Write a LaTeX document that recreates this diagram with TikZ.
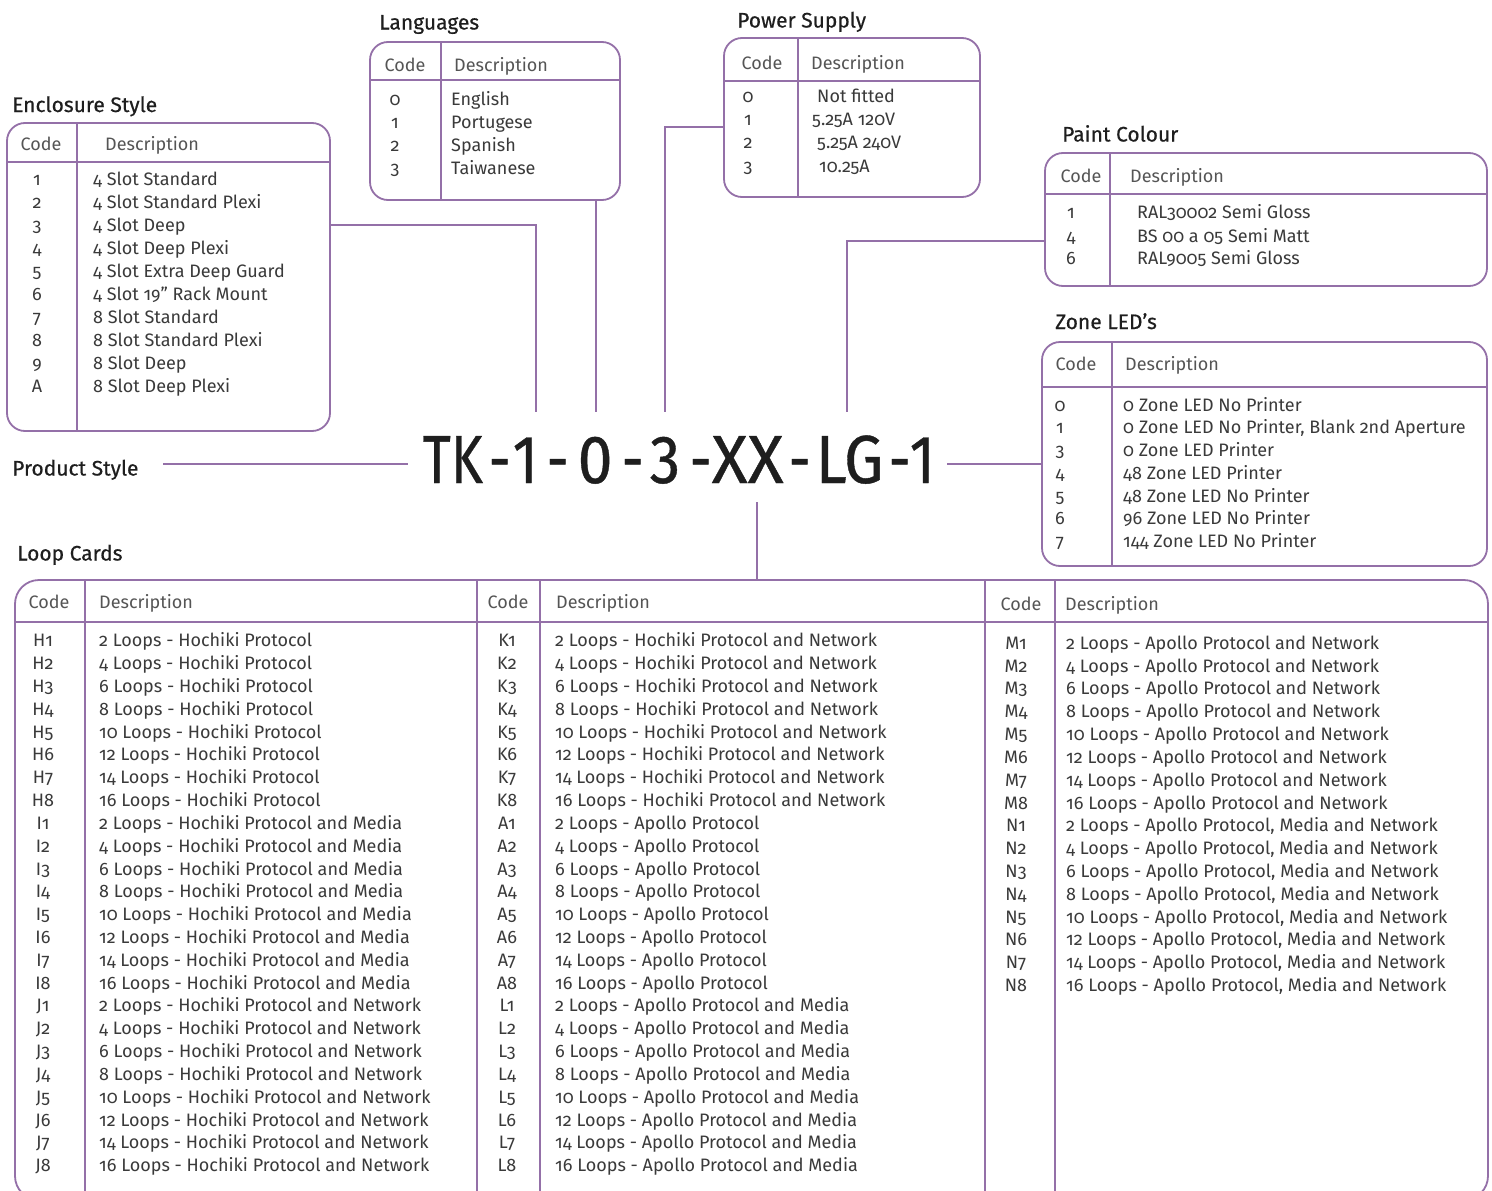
\documentclass[tikz,border=0pt]{standalone}
\usepackage{fontspec}
\setmainfont{Fira Sans}[Numbers=OldStyle]
\newfontfamily\medfont{Fira Sans}[FakeBold=0.5]
\newfontfamily\bigfont{Fira Sans}[Numbers=Lining, FakeBold=0.6]
\definecolor{lc}{RGB}{148,112,168}
\definecolor{tc}{RGB}{58,58,58}
\definecolor{hc}{RGB}{85,85,85}
\definecolor{ttc}{RGB}{30,30,30}
\newcommand\chunkat[3][0.8]{\rlap{\hspace{#2pt}\scalebox{#1}[1]{#3}}}
\begin{document}
\begin{tikzpicture}[x=1pt,y=-1pt,
  pl/.style={draw=lc, line width=1.8pt},
  tbox/.style={pl, rounded corners=18pt, anchor=north west, inner sep=0pt, outer sep=0pt},
  txt/.style={inner sep=0pt, text height=12.4pt, text depth=0pt, font=\fontsize{18pt}{22pt}\selectfont, text=tc},
  dsc/.style={txt, anchor=west},
  cod/.style={txt, anchor=center},
  hd/.style={txt, text=hc},
  hdc/.style={hd, anchor=center},
  hdd/.style={hd, anchor=west},
  ttl/.style={inner sep=0pt, anchor=west, font=\medfont\fontsize{21pt}{25pt}\selectfont, text=ttc, text height=15pt, text depth=0pt},
]
\clip (0,0) rectangle (1492,1191);
\fill[white] (0,0) rectangle (1492,1191);

% ---------- Enclosure Style ----------
\node[ttl] (encT) at (12,104.5) {Enclosure Style};
\node[tbox, minimum width=323pt, minimum height=308pt] (encl) at (7,123) {};
\draw[pl] (7,162) -- (330,162);
\draw[pl] (77,123) -- (77,431);
\node[hdc] (encHc) at (41,144) {Code};
\node[hdd] (encHd) at (105,144) {Description};
\foreach \c/\d [count=\i from 0] in {1/4 Slot Standard, 2/4 Slot Standard Plexi, 3/4 Slot Deep, 4/4 Slot Deep Plexi, 5/4 Slot Extra Deep Guard, 6/4 Slot 19" Rack Mount, 7/8 Slot Standard, 8/8 Slot Standard Plexi, 9/8 Slot Deep, A/8 Slot Deep Plexi}
{
  \node[cod] (encC\i) at (37,{179+23*\i}) {\c};
  \node[dsc] (encD\i) at (93,{179+23*\i}) {\d};
}

% ---------- Languages ----------
\node[ttl] (langT) at (379,22) {Languages};
\node[tbox, minimum width=250pt, minimum height=158pt] (lang) at (370,42) {};
\draw[pl] (370,80) -- (620,80);
\draw[pl] (441,42) -- (441,200);
\node[hdc] (langHc) at (405,65) {Code};
\node[hdd] (langHd) at (454,65) {Description};
\foreach \c/\d [count=\i from 0] in {0/English, 1/Portugese, 2/Spanish, 3/Taiwanese}
{
  \node[cod] (langC\i) at (395,{99+23*\i}) {\c};
  \node[dsc] (langD\i) at (451,{99+23*\i}) {\d};
}

% ---------- Power Supply ----------
\node[ttl] (powT) at (737,20) {Power Supply};
\node[tbox, minimum width=256pt, minimum height=159pt] (pow) at (724,38) {};
\draw[pl] (724,81) -- (980,81);
\draw[pl] (798,38) -- (798,197);
\node[hdc] (powHc) at (762,63) {Code};
\node[hdd] (powHd) at (811,63) {Description};
\foreach \c/\x/\d [count=\i from 0] in {0/817/Not fitted, 1/812/5.25A 120V, 2/817/5.25A 240V, 3/819/10.25A}
{
  \node[cod] (powC\i) at (748,{96+23.3*\i}) {\c};
  \node[dsc] (powD\i) at (\x,{96+23.3*\i}) {\d};
}

% ---------- Paint Colour ----------
\node[ttl] (paintT) at (1062,134) {Paint Colour};
\node[tbox, minimum width=442pt, minimum height=133pt] (paint) at (1045,153) {};
\draw[pl] (1045,194) -- (1487,194);
\draw[pl] (1110,153) -- (1110,286);
\node[hdc] (paintHc) at (1081,176.5) {Code};
\node[hdd] (paintHd) at (1130,176.5) {Description};
\foreach \c/\y/\d [count=\i from 0] in {1/212.5/RAL30002 Semi Gloss, 4/236/BS 00 a 05 Semi Matt, 6/258/RAL9005 Semi Gloss}
{
  \node[cod] (paintC\i) at (1071,\y) {\c};
  \node[dsc] (paintD\i) at (1137,\y) {\d};
}

% ---------- Zone LED's ----------
\node[ttl] (zoneT) at (1055,321.5) {Zone LED’s};
\node[tbox, minimum width=445pt, minimum height=224pt] (zone) at (1042,342) {};
\draw[pl] (1042,387) -- (1487,387);
\draw[pl] (1112,342) -- (1112,566);
\node[hdc] (zoneHc) at (1076,364) {Code};
\node[hdd] (zoneHd) at (1125,364) {Description};
\foreach \c/\d [count=\i from 0] in {0/0 Zone LED No Printer, 1/{0 Zone LED No Printer, Blank 2nd Aperture}, 3/0 Zone LED Printer, 4/48 Zone LED Printer, 5/48 Zone LED No Printer, 6/96 Zone LED No Printer, 7/144 Zone LED No Printer}
{
  \node[cod] (zoneC\i) at (1060,{405+22.7*\i}) {\c};
  \node[dsc] (zoneD\i) at (1123,{405+22.7*\i}) {\d};
}

% ---------- Product code ----------
\node[ttl] (psT) at (12,468) {Product Style};
\node[inner sep=0pt, anchor=base west, text=ttc, font=\bigfont\fontsize{68pt}{68pt}\selectfont] (code) at (422,483)
  {\chunkat{0}{TK}\chunkat{66}{-}\chunkat[0.85]{90}{1}\chunkat{124}{-}\chunkat[0.92]{155}{0}\chunkat{199}{-}\chunkat[0.9]{227}{3}\chunkat{267}{-}\chunkat[0.98]{289}{XX}\chunkat{366}{-}\chunkat[0.92]{393}{LG}\chunkat{466}{-}\chunkat[0.85]{487}{1}\hspace{520pt}};

\coordinate (kps) at (163,464);
\coordinate (kl) at (408,464);
\coordinate (k1) at (536,412);
\coordinate (k0) at (596,412);
\coordinate (k3) at (665,412);
\coordinate (k4) at (847,412);
\coordinate (kb) at (757,502);
\coordinate (kr) at (947,464);

\draw[pl] (kps) -- (kl);
\draw[pl] (encl.east |- 0,225) -| (k1);
\draw[pl] (lang.south -| k0) -- (k0);
\draw[pl] (pow.west |- 0,127) -| (k3);
\draw[pl] (paint.west |- 0,241) -| (k4);
\draw[pl] (kr) -- (zone.west |- kr);

% ---------- Loop Cards ----------
\node[ttl] (loopT) at (17,553) {Loop Cards};
\node[tbox, rounded corners=24pt, minimum width=1473pt, minimum height=620pt] (loop) at (15,580) {};
\draw[pl] (kb) -- (loop.north -| kb);
\draw[pl] (15,622) -- (1488,622);
\foreach \xx in {85,477,540,985,1055} { \draw[pl] (\xx,580) -- (\xx,1200); }
\node[hdc] (l1Hc) at (49,602.5) {Code};
\node[hdd] (l1Hd) at (99,602.5) {Description};
\node[hdc] (l2Hc) at (508,602) {Code};
\node[hdd] (l2Hd) at (556,602) {Description};
\node[hdc] (l3Hc) at (1021,604) {Code};
\node[hdd] (l3Hd) at (1065,604) {Description};

\foreach \c/\d [count=\i from 0] in {
 H1/2 Loops - Hochiki Protocol, H2/4 Loops - Hochiki Protocol, H3/6 Loops - Hochiki Protocol, H4/8 Loops - Hochiki Protocol,
 H5/10 Loops - Hochiki Protocol, H6/12 Loops - Hochiki Protocol, H7/14 Loops - Hochiki Protocol, H8/16 Loops - Hochiki Protocol,
 I1/2 Loops - Hochiki Protocol and Media, I2/4 Loops - Hochiki Protocol and Media, I3/6 Loops - Hochiki Protocol and Media, I4/8 Loops - Hochiki Protocol and Media,
 I5/10 Loops - Hochiki Protocol and Media, I6/12 Loops - Hochiki Protocol and Media, I7/14 Loops - Hochiki Protocol and Media, I8/16 Loops - Hochiki Protocol and Media,
 J1/2 Loops - Hochiki Protocol and Network, J2/4 Loops - Hochiki Protocol and Network, J3/6 Loops - Hochiki Protocol and Network, J4/8 Loops - Hochiki Protocol and Network,
 J5/10 Loops - Hochiki Protocol and Network, J6/12 Loops - Hochiki Protocol and Network, J7/14 Loops - Hochiki Protocol and Network, J8/16 Loops - Hochiki Protocol and Network}
{
  \node[cod] (la\i) at (43,{640.5+22.83*\i}) {\c};
  \node[dsc] (lad\i) at (99,{640.5+22.83*\i}) {\d};
}
\foreach \c/\d [count=\i from 0] in {
 K1/2 Loops - Hochiki Protocol and Network, K2/4 Loops - Hochiki Protocol and Network, K3/6 Loops - Hochiki Protocol and Network, K4/8 Loops - Hochiki Protocol and Network,
 K5/10 Loops - Hochiki Protocol and Network, K6/12 Loops - Hochiki Protocol and Network, K7/14 Loops - Hochiki Protocol and Network, K8/16 Loops - Hochiki Protocol and Network,
 A1/2 Loops - Apollo Protocol, A2/4 Loops - Apollo Protocol, A3/6 Loops - Apollo Protocol, A4/8 Loops - Apollo Protocol,
 A5/10 Loops - Apollo Protocol, A6/12 Loops - Apollo Protocol, A7/14 Loops - Apollo Protocol, A8/16 Loops - Apollo Protocol,
 L1/2 Loops - Apollo Protocol and Media, L2/4 Loops - Apollo Protocol and Media, L3/6 Loops - Apollo Protocol and Media, L4/8 Loops - Apollo Protocol and Media,
 L5/10 Loops - Apollo Protocol and Media, L6/12 Loops - Apollo Protocol and Media, L7/14 Loops - Apollo Protocol and Media, L8/16 Loops - Apollo Protocol and Media}
{
  \node[cod] (lb\i) at (507,{640.5+22.83*\i}) {\c};
  \node[dsc] (lbd\i) at (555,{640.5+22.83*\i}) {\d};
}
\foreach \c/\d [count=\i from 0] in {
 M1/2 Loops - Apollo Protocol and Network, M2/4 Loops - Apollo Protocol and Network, M3/6 Loops - Apollo Protocol and Network, M4/8 Loops - Apollo Protocol and Network,
 M5/10 Loops - Apollo Protocol and Network, M6/12 Loops - Apollo Protocol and Network, M7/14 Loops - Apollo Protocol and Network, M8/16 Loops - Apollo Protocol and Network,
 N1/{2 Loops - Apollo Protocol, Media and Network}, N2/{4 Loops - Apollo Protocol, Media and Network}, N3/{6 Loops - Apollo Protocol, Media and Network}, N4/{8 Loops - Apollo Protocol, Media and Network},
 N5/{10 Loops - Apollo Protocol, Media and Network}, N6/{12 Loops - Apollo Protocol, Media and Network}, N7/{14 Loops - Apollo Protocol, Media and Network}, N8/{16 Loops - Apollo Protocol, Media and Network}}
{
  \node[cod] (lc\i) at (1016,{643+22.83*\i}) {\c};
  \node[dsc] (lcd\i) at (1066,{643+22.83*\i}) {\d};
}
\end{tikzpicture}
\end{document}
